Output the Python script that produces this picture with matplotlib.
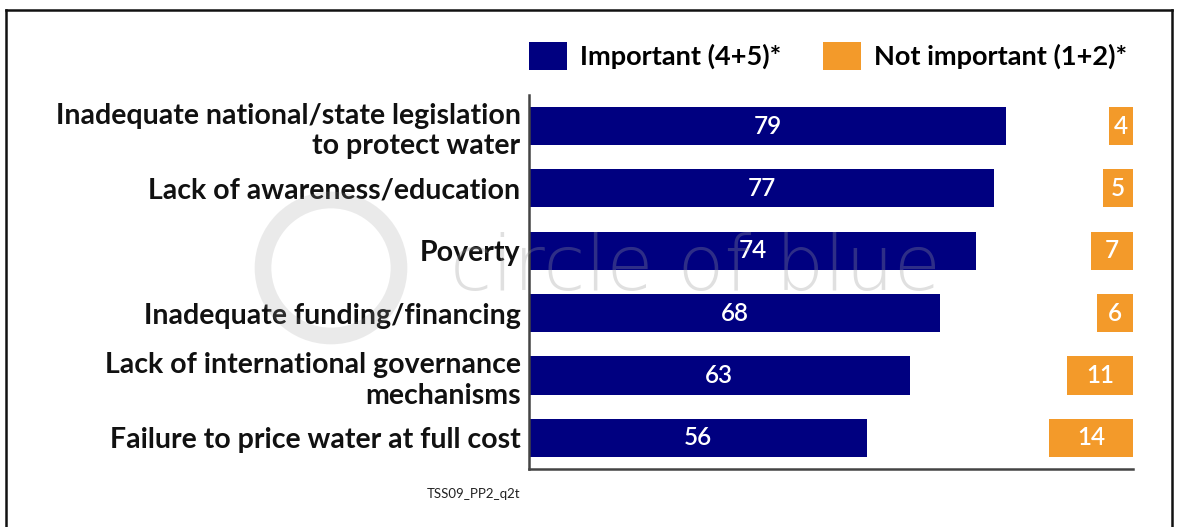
import matplotlib
matplotlib.use("Agg")
import matplotlib.pyplot as plt
from matplotlib.patches import Patch, Circle
from matplotlib.lines import Line2D

plt.rcParams["font.family"] = ["Lato", "DejaVu Sans"]

# Survey results: share of respondents rating each obstacle
categories = [
    "Inadequate national/state legislation\nto protect water",
    "Lack of awareness/education",
    "Poverty",
    "Inadequate funding/financing",
    "Lack of international governance\nmechanisms",
    "Failure to price water at full cost",
]
important = [79, 77, 74, 68, 63, 56]
not_important = [4, 5, 7, 6, 11, 14]
series_names = ["Important (4+5)*", "Not important (1+2)*"]
source_code = "TSS09_PP2_q2t"

NAVY = "#000080"
ORANGE = "#F39A2A"
AXIS_GREY = "#444444"

fig = plt.figure(figsize=(11.78, 5.27), dpi=100)
ax = fig.add_axes([0.449, 0.110, 0.513, 0.710])

y = list(range(len(categories)))
bar_h = 0.61

ax.barh(y, important, height=bar_h, color=NAVY, zorder=2)
# orange bars are right-aligned against the 100 mark
left_ni = [100 - v for v in not_important]
ax.barh(y, not_important, left=left_ni, height=bar_h, color=ORANGE, zorder=2)

for yi, v in zip(y, important):
    ax.text(v / 2, yi, str(v), color="white", ha="center", va="center",
            fontsize=17.5, fontweight="semibold", zorder=3)
for yi, l, v in zip(y, left_ni, not_important):
    ax.text(l + v / 2, yi, str(v), color="white", ha="center", va="center",
            fontsize=17.5, fontweight="semibold", zorder=3)

ax.set_xlim(0, 100)
ax.set_ylim(len(categories) - 0.5, -0.5)
ax.set_yticks(y)
ax.set_yticklabels(categories, fontsize=20.5, fontweight="bold",
                   linespacing=1.22, color="#111111")
ax.tick_params(axis="y", length=0, pad=6)
ax.set_xticks([])
for side in ("top", "right"):
    ax.spines[side].set_visible(False)
for side in ("left", "bottom"):
    ax.spines[side].set_color(AXIS_GREY)
    ax.spines[side].set_linewidth(1.8)

handles = [Patch(facecolor=NAVY, edgecolor="none"),
           Patch(facecolor=ORANGE, edgecolor="none")]
ax.legend(handles, series_names, loc="lower left", bbox_to_anchor=(0, 1.067),
          ncol=2, frameon=False, handlelength=1.4, handleheight=1.22,
          handletextpad=0.48, columnspacing=1.55, borderaxespad=0,
          borderpad=0, prop={"weight": "bold", "size": 19.5})

fig.text(520 / 1178, 1 - 494 / 527, source_code, ha="right", va="center",
         fontsize=9.5, color="#222222")

# faint "circle of blue" watermark over the chart
fig.add_artist(Circle((3.31, (527 - 268) / 100), 0.68,
                      transform=fig.dpi_scale_trans, fill=False,
                      edgecolor="#999999", linewidth=12, alpha=0.2,
                      zorder=10))
fig.text(450 / 1178, 1 - 290 / 527, "circle of blue", ha="left",
         va="baseline", fontsize=55, color="#999999", alpha=0.3,
         fontfamily="DejaVu Sans", fontweight="light", zorder=10)

# thin frame around the graphic
frame_kw = dict(color="#111111", linewidth=1.8, transform=fig.transFigure)
fig.add_artist(Line2D([6 / 1178, 6 / 1178], [0, 1 - 10 / 527], **frame_kw))
fig.add_artist(Line2D([6 / 1178, 1172 / 1178], [1 - 10 / 527, 1 - 10 / 527], **frame_kw))
fig.add_artist(Line2D([1172 / 1178, 1172 / 1178], [0, 1 - 10 / 527], **frame_kw))

fig.savefig("out.png", dpi=100, facecolor="white")
